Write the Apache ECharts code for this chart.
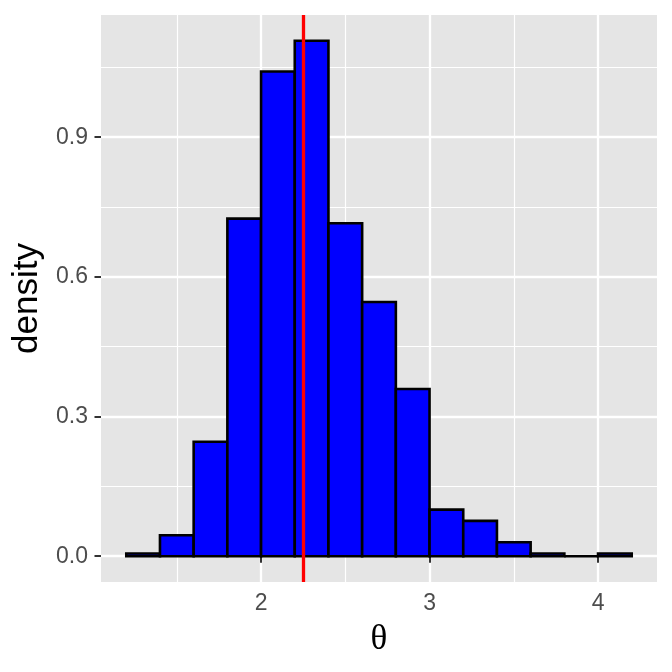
<!DOCTYPE html>
<html>
<head>
<meta charset="utf-8">
<script src="https://cdn.jsdelivr.net/npm/echarts@6/dist/echarts.min.js"></script>
<style>
  html, body { margin: 0; padding: 0; background: #ffffff; }
  #chart { width: 672px; height: 672px; }
</style>
</head>
<body>
<div id="chart"></div>
<script>
// ---- data ----
const binEdges = [1.2, 1.4, 1.6, 1.8, 2.0, 2.2, 2.4, 2.6, 2.8, 3.0, 3.2, 3.4, 3.6, 3.8, 4.0, 4.2];
const densities = [0.006, 0.045, 0.246, 0.725, 1.041, 1.107, 0.715, 0.546, 0.359, 0.100, 0.076, 0.030, 0.006, 0.0, 0.006];
const meanTheta = 2.252;
const xMajorTicks = [2, 3, 4];
const xMinorTicks = [1.5, 2.5, 3.5];
const yMajorTicks = [0, 0.3, 0.6, 0.9];
const yMinorTicks = [0.15, 0.45, 0.75, 1.05];
const xTitle = 'θ';
const yTitle = 'density';

// ggplot-style 5% expansion of the data range
const xLo = binEdges[0], xHi = binEdges[binEdges.length - 1];
const xPad = (xHi - xLo) * 0.05;
const yLo = 0, yHi = Math.max.apply(null, densities);
const yPad = (yHi - yLo) * 0.05;
const xMin = xLo - xPad, xMax = xHi + xPad;
const yMin = yLo - yPad, yMax = yHi + yPad;

const barData = densities.map((d, i) => [binEdges[i], binEdges[i + 1], d]);

const chart = echarts.init(document.getElementById('chart'), null, { renderer: 'canvas' });

const labelFont = { color: '#4D4D4D', fontSize: 23, fontFamily: 'Liberation Sans, Arial, sans-serif' };

chart.setOption({
  animation: false,
  backgroundColor: '#ffffff',
  grid: {
    left: 101, right: 15, top: 15, bottom: 90,
    show: true, backgroundColor: '#E5E5E5', borderWidth: 0
  },
  xAxis: [
    {
      type: 'value', min: xMin, max: xMax,
      name: xTitle, nameLocation: 'middle', nameGap: 40,
      nameTextStyle: { color: '#000000', fontSize: 35, fontFamily: 'Liberation Serif, Times New Roman, serif' },
      axisLine: { show: false },
      axisTick: { show: true, length: 6.5, customValues: xMajorTicks, lineStyle: { color: '#333333', width: 2 } },
      axisLabel: Object.assign({ show: true, margin: 10, customValues: xMajorTicks, formatter: v => String(v) }, labelFont),
      splitLine: { show: true, lineStyle: { color: '#FFFFFF', width: 2.3 } }
    },
    {
      type: 'value', min: xMin, max: xMax, position: 'bottom',
      axisLine: { show: false },
      axisTick: { show: false, customValues: xMinorTicks },
      axisLabel: { show: false, customValues: xMinorTicks },
      splitLine: { show: true, lineStyle: { color: '#FFFFFF', width: 1.2 } }
    }
  ],
  yAxis: [
    {
      type: 'value', min: yMin, max: yMax,
      name: yTitle, nameLocation: 'middle', nameGap: 54, nameRotate: 90,
      nameTextStyle: { color: '#000000', fontSize: 35, fontFamily: 'Liberation Sans, Arial, sans-serif' },
      axisLine: { show: false },
      axisTick: { show: true, length: 6.5, customValues: yMajorTicks, lineStyle: { color: '#333333', width: 2 } },
      axisLabel: Object.assign({ show: true, margin: 13, customValues: yMajorTicks, formatter: v => Number(v).toFixed(1) }, labelFont),
      splitLine: { show: true, lineStyle: { color: '#FFFFFF', width: 2.3 } }
    },
    {
      type: 'value', min: yMin, max: yMax, position: 'left',
      axisLine: { show: false },
      axisTick: { show: false, customValues: yMinorTicks },
      axisLabel: { show: false, customValues: yMinorTicks },
      splitLine: { show: true, lineStyle: { color: '#FFFFFF', width: 1.2 } }
    }
  ],
  series: [
    {
      type: 'custom',
      xAxisIndex: 0, yAxisIndex: 0,
      z: 2,
      data: barData,
      encode: { x: [0, 1], y: 2 },
      renderItem: function (params, api) {
        const x0 = api.value(0), x1 = api.value(1), h = api.value(2);
        const p0 = api.coord([x0, 0]);
        const p1 = api.coord([x1, h]);
        return {
          type: 'rect',
          shape: { x: p0[0], y: p1[1], width: p1[0] - p0[0], height: p0[1] - p1[1] },
          style: { fill: '#0000FF', stroke: '#000000', lineWidth: 2.6 }
        };
      }
    },
    {
      type: 'line',
      xAxisIndex: 0, yAxisIndex: 0,
      data: [],
      z: 5,
      markLine: {
        silent: true,
        symbol: ['none', 'none'],
        label: { show: false },
        lineStyle: { color: '#FF0000', width: 3.3, type: 'solid' },
        emphasis: { disabled: true },
        data: [{ xAxis: meanTheta }]
      }
    }
  ]
});
</script>
</body>
</html>
